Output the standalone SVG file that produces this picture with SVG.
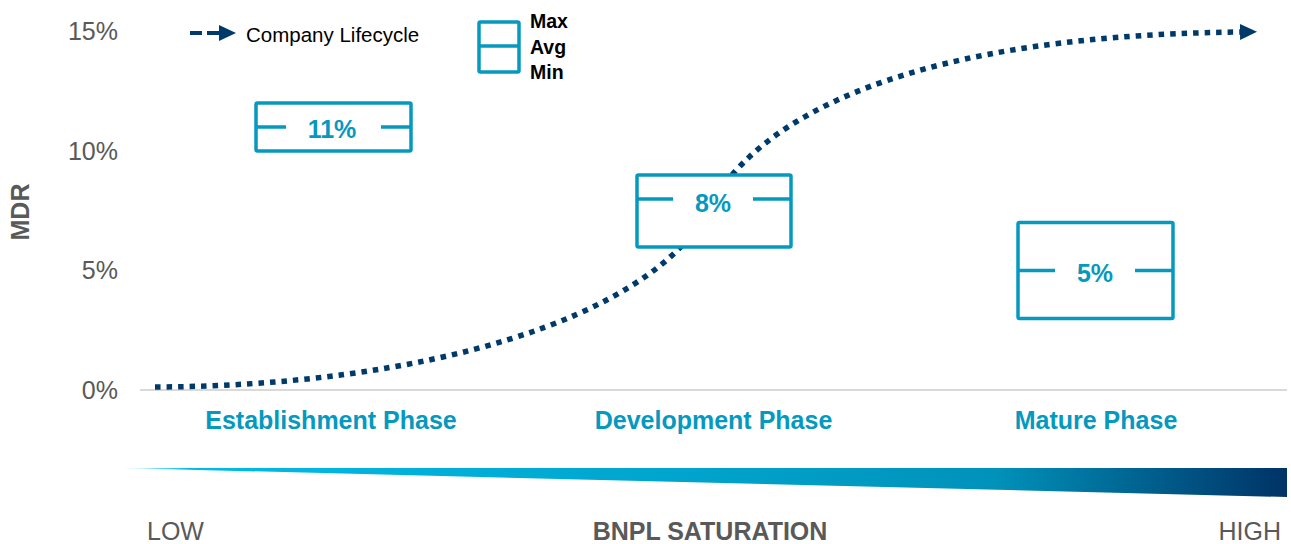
<svg xmlns="http://www.w3.org/2000/svg" width="1291" height="544" viewBox="0 0 1291 544">
  <style>
    text { font-family: "Liberation Sans", Arial, sans-serif; }
    .ylab { font-size: 25px; fill: #595959; text-anchor: end; }
    .axis { font-size: 25px; fill: #595959; }
    .phase { font-size: 25px; font-weight: bold; fill: #0599BF; text-anchor: middle; }
    .val { font-size: 25px; font-weight: bold; fill: #0599BF; text-anchor: middle; }
    .box { fill: #FFFFFF; stroke: #0599BF; stroke-width: 3.5; stroke-linejoin: round; }
    .stub { stroke: #0599BF; stroke-width: 3.5; }
    .legend { font-size: 20.5px; fill: #000000; }
    .legb { font-size: 19.5px; font-weight: bold; fill: #000000; }
    .curve { fill: none; stroke: #003A6B; stroke-width: 5.5; stroke-dasharray: 5.5 6; }
  </style>
  <defs>
    <marker id="arrow" markerUnits="userSpaceOnUse" markerWidth="17" markerHeight="16" viewBox="0 0 17 16" refX="0" refY="8" orient="auto">
      <path d="M0,0 L17,8 L0,16 z" fill="#003A6B"/>
    </marker>
    <linearGradient id="sat" x1="120" y1="0" x2="1287" y2="0" gradientUnits="userSpaceOnUse">
      <stop offset="0" stop-color="#E6F8FD"/>
      <stop offset="0.06" stop-color="#00BBE6"/>
      <stop offset="0.5" stop-color="#00A3CB"/>
      <stop offset="0.75" stop-color="#0092BA"/>
      <stop offset="1" stop-color="#003366"/>
    </linearGradient>
  </defs>

  <g id="y-axis">
    <text class="ylab" x="118" y="40">15%</text>
    <text class="ylab" x="118" y="160">10%</text>
    <text class="ylab" x="118" y="279">5%</text>
    <text class="ylab" x="118" y="399">0%</text>
    <text x="29" y="212" transform="rotate(-90 29 212)" style="font-size:25px;font-weight:bold;fill:#595959;text-anchor:middle">MDR</text>
  </g>

  <line id="baseline" x1="140" y1="390" x2="1287" y2="390" stroke="#D9D9D9" stroke-width="2"/>

  <g id="legend">
    <path d="M190,33 H219" stroke="#003A6B" stroke-width="4" stroke-dasharray="12 5" marker-end="url(#arrow)" fill="none"/>
    <text class="legend" x="246" y="41.5">Company Lifecycle</text>
    <rect class="box" x="479" y="22" width="40" height="50" rx="1.5"/>
    <line class="stub" x1="479" y1="46" x2="519" y2="46"/>
    <text class="legb" x="530" y="28">Max</text>
    <text class="legb" x="530" y="53.5">Avg</text>
    <text class="legb" x="530" y="79">Min</text>
  </g>

  <g id="connectors">
    <path id="lifecycle" class="curve" d="M155,387 C420,386 650,320 708,210 C750,130 880,36 1240,32" marker-end="url(#arrow)"/>
  </g>

  <g id="establishment">
    <rect class="box" x="256" y="103" width="155" height="48" rx="1.5"/>
    <line class="stub" x1="256" y1="127" x2="286" y2="127"/>
    <line class="stub" x1="381" y1="127" x2="411" y2="127"/>
    <text class="val" x="332" y="138">11%</text>
    <text class="phase" x="331" y="429">Establishment Phase</text>
  </g>

  <g id="development">
    <rect class="box" x="637" y="175" width="154" height="72" rx="1.5"/>
    <line class="stub" x1="637" y1="199" x2="673" y2="199"/>
    <line class="stub" x1="753" y1="199" x2="791" y2="199"/>
    <text class="val" x="713" y="212">8%</text>
    <text class="phase" x="713.5" y="429">Development Phase</text>
  </g>

  <g id="mature">
    <rect class="box" x="1018" y="222.5" width="155" height="96" rx="1.5"/>
    <line class="stub" x1="1018" y1="270.5" x2="1055" y2="270.5"/>
    <line class="stub" x1="1135" y1="270.5" x2="1173" y2="270.5"/>
    <text class="val" x="1095" y="282">5%</text>
    <text class="phase" x="1096" y="429">Mature Phase</text>
  </g>

  <g id="saturation">
    <polygon points="120,468 1287,468 1287,497" fill="url(#sat)"/>
    <text class="axis" x="147" y="540">LOW</text>
    <text class="axis" x="710" y="540" style="font-weight:bold;text-anchor:middle">BNPL SATURATION</text>
    <text class="axis" x="1281" y="540" style="text-anchor:end">HIGH</text>
  </g>
</svg>
